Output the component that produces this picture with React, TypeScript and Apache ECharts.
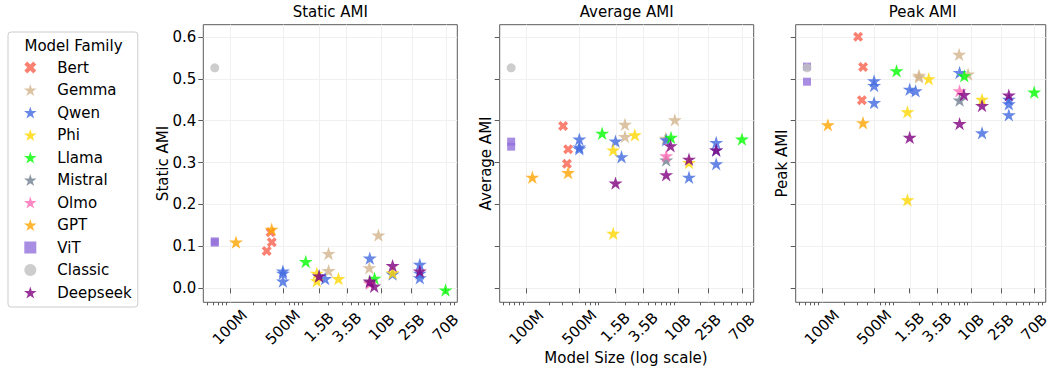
import React, { useEffect, useRef } from 'react';
import * as echarts from 'echarts';

const FONT = 'DejaVu Sans';

const FAMILIES = ['Bert', 'Gemma', 'Qwen', 'Phi', 'Llama', 'Mistral', 'Olmo', 'GPT', 'ViT', 'Classic', 'Deepseek'];
const COLORS = ['#FA7A6A', '#D2B48C', '#4169E1', '#FFD700', '#00FF00', '#708090', '#FF69B4', '#FFA500', '#9370DB', '#C0C0C0', '#800080'];
const PANEL_TITLES = ['Static AMI', 'Average AMI', 'Peak AMI'];

// model sizes (parameters) and AMI values: [static, average, peak]
const BERT_SIZE = [305e6, 356e6, 343e6];
const BERT_STATIC = [0.089, 0.110, 0.134];
const BERT_AVG = [0.387, 0.332, 0.297];
const BERT_PEAK = [0.600, 0.528, 0.449];

const GEMMA_SIZE = [2e9, 2e9, 6.9e9, 9.1e9];
const GEMMA_STATIC = [0.083, 0.042, 0.049, 0.127];
const GEMMA_AVG = [0.391, 0.362, 0.358, 0.402];
const GEMMA_PEAK = [0.508, 0.504, 0.558, 0.511];

const QWEN_SIZE = [0.5e9, 0.5e9, 0.5e9, 1.5e9, 1.8e9, 7e9, 14e9, 32e9, 32e9, 32e9];
const QWEN_STATIC = [0.041, 0.017, 0.036, 0.030, 0.023, 0.072, 0.034, 0.057, 0.025, 0.036];
const QWEN_AVG = [0.356, 0.337, 0.333, 0.351, 0.314, 0.354, 0.265, 0.348, 0.297, 0.330];
const QWEN_PEAK = [0.495, 0.484, 0.443, 0.475, 0.471, 0.515, 0.371, 0.451, 0.440, 0.414];

const PHI_SIZE = [1.4e9, 1.4e9, 2.7e9, 14e9];
const PHI_STATIC = [0.036, 0.018, 0.023, 0.037];
const PHI_AVG = [0.330, 0.131, 0.366, 0.300];
const PHI_PEAK = [0.421, 0.211, 0.500, 0.451];

const LLAMA_SIZE = [1e9, 8.1e9, 70e9];
const LLAMA_STATIC = [0.064, 0.024, -0.004];
const LLAMA_AVG = [0.370, 0.360, 0.356];
const LLAMA_PEAK = [0.519, 0.507, 0.468];

const MISTRAL_SIZE = [7e9];
const MISTRAL_STATIC = [0.015];
const MISTRAL_AVG = [0.306];
const MISTRAL_PEAK = [0.449];

const OLMO_SIZE = [7e9];
const OLMO_STATIC = [0.012];
const OLMO_AVG = [0.316];
const OLMO_PEAK = [0.471];

const GPT_SIZE = [120e6, 355e6];
const GPT_STATIC = [0.110, 0.141];
const GPT_AVG = [0.265, 0.276];
const GPT_PEAK = [0.390, 0.395];

const VIT_SIZE = [63e6, 63e6];
const VIT_STATIC = [0.112, 0.109];
const VIT_AVG = [0.350, 0.338];
const VIT_PEAK = [0.529, 0.493];

const CLASSIC_SIZE = [63e6];
const CLASSIC_STATIC = [0.526];
const CLASSIC_AVG = [0.526];
const CLASSIC_PEAK = [0.526];

const DEEPSEEK_SIZE = [1.5e9, 7e9, 8e9, 14e9, 32e9];
const DEEPSEEK_STATIC = [0.029, 0.017, 0.005, 0.054, 0.041];
const DEEPSEEK_AVG = [0.251, 0.271, 0.340, 0.308, 0.330];
const DEEPSEEK_PEAK = [0.360, 0.393, 0.462, 0.436, 0.461];

const FAMILY_DATA: Record<string, { size: number[]; vals: number[][] }> = {
  Bert: { size: BERT_SIZE, vals: [BERT_STATIC, BERT_AVG, BERT_PEAK] },
  Gemma: { size: GEMMA_SIZE, vals: [GEMMA_STATIC, GEMMA_AVG, GEMMA_PEAK] },
  Qwen: { size: QWEN_SIZE, vals: [QWEN_STATIC, QWEN_AVG, QWEN_PEAK] },
  Phi: { size: PHI_SIZE, vals: [PHI_STATIC, PHI_AVG, PHI_PEAK] },
  Llama: { size: LLAMA_SIZE, vals: [LLAMA_STATIC, LLAMA_AVG, LLAMA_PEAK] },
  Mistral: { size: MISTRAL_SIZE, vals: [MISTRAL_STATIC, MISTRAL_AVG, MISTRAL_PEAK] },
  Olmo: { size: OLMO_SIZE, vals: [OLMO_STATIC, OLMO_AVG, OLMO_PEAK] },
  GPT: { size: GPT_SIZE, vals: [GPT_STATIC, GPT_AVG, GPT_PEAK] },
  ViT: { size: VIT_SIZE, vals: [VIT_STATIC, VIT_AVG, VIT_PEAK] },
  Classic: { size: CLASSIC_SIZE, vals: [CLASSIC_STATIC, CLASSIC_AVG, CLASSIC_PEAK] },
  Deepseek: { size: DEEPSEEK_SIZE, vals: [DEEPSEEK_STATIC, DEEPSEEK_AVG, DEEPSEEK_PEAK] },
};

const X_TICK_SIZES = [1e8, 5e8, 1.5e9, 3.5e9, 1e10, 2.5e10, 7e10];
const X_TICK_LABELS = ['100M', '500M', '1.5B', '3.5B', '10B', '25B', '70B'];
const X_MINOR_SIZES = [5e7, 6e7, 7e7, 8e7, 9e7, 2e8, 3e8, 4e8, 6e8, 7e8, 8e8, 9e8,
  2e9, 3e9, 4e9, 5e9, 6e9, 7e9, 8e9, 9e9, 2e10, 3e10, 4e10, 5e10, 6e10, 8e10, 9e10];
const Y_TICKS = [0, 0.1, 0.2, 0.3, 0.4, 0.5, 0.6];

const STAR = 'path://M0,-100L22,-31L95,-31L36,12L59,81L0,38L-59,81L-36,12L-95,-31L-22,-31Z';
const XMARK = 'path://M-50,-25L-25,-50L0,-25L25,-50L50,-25L25,0L50,25L25,50L0,25L-25,50L-50,25L-25,0Z';
const SQUARE = 'path://M0,0L10,0L10,10L0,10Z';

const SYMBOLS: Record<string, [string, number, number]> = {
  Bert: [XMARK, 10, 0.95],
  ViT: [SQUARE, 8, 0.8],
  Classic: ['circle', 9, 0.8],
};

const GRID_LEFT = [203.3, 499.7, 795.7];
const GRID_WIDTH = 254;
const GRID_TOP = 24.7;
const GRID_HEIGHT = 277.6;
const X_MIN = 7.648;
const X_MAX = 11.0;
const Y_MIN = -0.0334;
const Y_MAX = 0.629;

const AXIS_COLOR = '#5a5a5a';
const GRID_LINE = '#f0f0f0';

export default function App() {
  const ref = useRef<HTMLDivElement>(null);

  useEffect(() => {
    if (!ref.current) return;
    const chart = echarts.init(ref.current, undefined, { renderer: 'svg' });

    const xTickVals = X_TICK_SIZES.map((v) => Math.log10(v));
    const xMinorVals = X_MINOR_SIZES.map((v) => Math.log10(v));

    const grids: any[] = [];
    const xAxes: any[] = [];
    const yAxes: any[] = [];
    const series: any[] = [];
    const graphics: any[] = [];

    for (let p = 0; p < 3; p++) {
      grids.push({
        left: GRID_LEFT[p], top: GRID_TOP, width: GRID_WIDTH, height: GRID_HEIGHT,
        show: true, borderColor: AXIS_COLOR, borderWidth: 1, backgroundColor: 'transparent',
      });
      xAxes.push({
        type: 'value', gridIndex: p, min: X_MIN, max: X_MAX, position: 'bottom',
        axisLine: { show: false }, splitLine: { show: false },
        axisTick: { show: true, customValues: xTickVals, length: 5, lineStyle: { color: AXIS_COLOR } },
        axisLabel: {
          show: true, customValues: xTickVals, rotate: 45, align: 'center', verticalAlign: 'middle',
          margin: 25, fontSize: 15, fontFamily: FONT, color: '#000',
          formatter: (v: number) => {
            const i = xTickVals.findIndex((t) => Math.abs(t - v) < 1e-6);
            return i >= 0 ? X_TICK_LABELS[i] : '';
          },
        },
      });
      xAxes.push({
        type: 'value', gridIndex: p, min: X_MIN, max: X_MAX, position: 'bottom',
        axisLine: { show: false }, splitLine: { show: false },
        axisTick: { show: true, customValues: xMinorVals, length: 3, lineStyle: { color: AXIS_COLOR } },
        axisLabel: { show: false },
      });
      yAxes.push({
        type: 'value', gridIndex: p, min: Y_MIN, max: Y_MAX,
        axisLine: { show: false }, splitLine: { show: false },
        axisTick: { show: true, customValues: Y_TICKS, length: 5, lineStyle: { color: AXIS_COLOR } },
        axisLabel: {
          show: p === 0, customValues: Y_TICKS, margin: 7, fontSize: 15, fontFamily: FONT, color: '#000',
          formatter: (v: number) => v.toFixed(1),
        },
      });

      // grid lines
      series.push({
        type: 'scatter', name: '__grid' + p, xAxisIndex: p * 2, yAxisIndex: p, data: [],
        silent: true,
        markLine: {
          silent: true, symbol: 'none', z: 0, animation: false,
          label: { show: false },
          lineStyle: { color: GRID_LINE, width: 1, type: 'solid' },
          emphasis: { disabled: true },
          data: [
            ...Y_TICKS.map((v) => ({ yAxis: v })),
            ...xTickVals.map((v) => ({ xAxis: v })),
          ],
        },
      });

      FAMILIES.forEach((f, fi) => {
        const d = FAMILY_DATA[f];
        const sym = SYMBOLS[f] || [STAR, 14, 0.8];
        series.push({
          type: 'scatter', name: f, xAxisIndex: p * 2, yAxisIndex: p,
          symbol: sym[0], symbolSize: sym[1], symbolKeepAspect: true,
          itemStyle: { color: COLORS[fi], opacity: sym[2] },
          data: d.size.map((s, i) => [Math.log10(s), d.vals[p][i]]),
        });
      });

      graphics.push({
        type: 'text', x: GRID_LEFT[p] + GRID_WIDTH / 2, y: 12,
        style: { text: PANEL_TITLES[p], font: `15px "${FONT}"`, fill: '#000', textAlign: 'center', textVerticalAlign: 'middle' },
      });
    }

    const yNameX = [163, 486.3, 782];
    PANEL_TITLES.forEach((t, p) => {
      graphics.push({
        type: 'text', x: yNameX[p], y: GRID_TOP + GRID_HEIGHT / 2, rotation: Math.PI / 2,
        style: { text: t, font: `15px "${FONT}"`, fill: '#000', textAlign: 'center', textVerticalAlign: 'middle' },
      });
    });
    graphics.push({
      type: 'text', x: 626, y: 358,
      style: { text: 'Model Size (log scale)', font: `15px "${FONT}"`, fill: '#000', textAlign: 'center', textVerticalAlign: 'middle' },
    });
    graphics.push({
      type: 'text', x: 73.5, y: 45.7,
      style: { text: 'Model Family', font: `15px "${FONT}"`, fill: '#000', textAlign: 'center', textVerticalAlign: 'middle' },
    });

    chart.setOption({
      animation: false,
      backgroundColor: '#ffffff',
      grid: grids,
      xAxis: xAxes,
      yAxis: yAxes,
      legend: {
        orient: 'vertical', left: 8, top: 32,
        padding: [28, 6, 7, 16], itemGap: 7.5, itemWidth: 44, itemHeight: 12,
        borderColor: '#cccccc', borderWidth: 1, borderRadius: 3,
        symbolKeepAspect: true,
        textStyle: { fontSize: 15, fontFamily: FONT, color: '#000' },
        data: FAMILIES,
      },
      graphic: graphics,
      series,
    });

    return () => chart.dispose();
  }, []);

  return (
    <div
      ref={ref}
      style={{ position: 'absolute', left: 0, top: 0, width: 1052, height: 373 }}
    />
  );
}
